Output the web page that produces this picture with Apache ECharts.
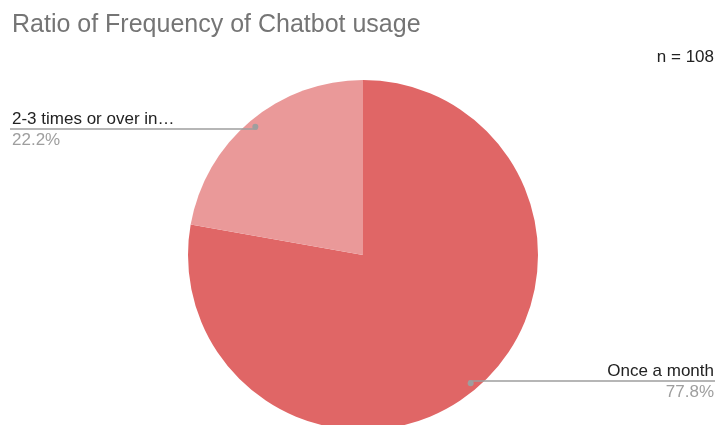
<!DOCTYPE html>
<html>
<head>
<meta charset="utf-8">
<script src="https://cdn.jsdelivr.net/npm/echarts@6/dist/echarts.min.js"></script>
<style>
  html, body { margin: 0; padding: 0; background: #ffffff; }
  #chart { width: 717px; height: 425px; }
</style>
</head>
<body>
<div id="chart"></div>
<script>
// Survey answers: how often respondents use a chatbot (n = 108)
const categories = ['Once a month', '2-3 times or over in a month'];
const shortNames = ['Once a month', '2-3 times or over in\u2026'];
const counts = [84, 24];
const sliceColors = ['#e06666', '#ea9999'];
const titleText = 'Ratio of Frequency of Chatbot usage';
const sampleText = 'n = 108';

const FONT = '"Liberation Sans", Arial, sans-serif';
const CENTER = [363, 255];
const RADIUS = 175;
const ANCHOR = 0.94; // the leader lines start a little inside the rim

const chart = echarts.init(document.getElementById('chart'), null, { renderer: 'canvas' });

const sliceData = categories.map((c, i) => ({
  name: c,
  value: counts[i],
  itemStyle: { color: sliceColors[i] }
}));
const plainData = categories.map((c, i) => ({ name: c, value: counts[i] }));

// point on the slice's mid-angle, slightly inside the rim
function anchorPoint(dataIndex) {
  const total = counts.reduce((a, b) => a + b, 0);
  let before = 0;
  for (let i = 0; i < dataIndex; i++) before += counts[i];
  const mid = (before + counts[dataIndex] / 2) / total * Math.PI * 2;
  return [
    CENTER[0] + Math.sin(mid) * RADIUS * ANCHOR,
    CENTER[1] - Math.cos(mid) * RADIUS * ANCHOR
  ];
}

const ring = {
  type: 'pie',
  center: CENTER,
  radius: [RADIUS * (2 * ANCHOR - 1), RADIUS],
  startAngle: 90,
  clockwise: true,
  silent: true,
  avoidLabelOverlap: false,
  itemStyle: { color: 'rgba(0,0,0,0)' },
  data: plainData
};

chart.setOption({
  backgroundColor: '#ffffff',
  animation: false,
  title: [
    {
      text: titleText,
      left: 7,
      top: 8,
      textStyle: { fontFamily: FONT, fontSize: 25, fontWeight: 'normal', color: '#757575' }
    },
    {
      text: sampleText,
      right: -2,
      top: 44,
      textStyle: { fontFamily: FONT, fontSize: 17, fontWeight: 'normal', color: '#222222' }
    }
  ],
  series: [
    {
      // the slices themselves
      type: 'pie',
      center: CENTER,
      radius: RADIUS,
      startAngle: 90,
      clockwise: true,
      silent: true,
      z: 2,
      data: sliceData,
      label: { show: false },
      labelLine: { show: false }
    },
    Object.assign({}, ring, {
      // category labels with their leader lines, drawn above the slices
      z: 3,
      label: {
        show: true,
        position: 'outside',
        formatter: p => '{name|' + shortNames[p.dataIndex] + '}\n{pct|' + p.percent.toFixed(1) + '%}',
        rich: {
          name: { fontFamily: FONT, fontSize: 17, color: '#222222', lineHeight: 21 },
          pct: { fontFamily: FONT, fontSize: 17, color: '#9e9e9e', lineHeight: 21 }
        }
      },
      labelLine: {
        show: true,
        minTurnAngle: null,
        maxSurfaceAngle: null,
        lineStyle: { color: '#9e9e9e', width: 1.6 }
      },
      labelLayout: function (p) {
        const a = anchorPoint(p.dataIndex);
        const w = chart.getWidth();
        const onLeft = a[0] < CENTER[0];
        const endX = onLeft ? 10 : w - 2;
        return {
          x: onLeft ? 12 : w - 3,
          y: a[1] + 1,
          align: onLeft ? 'left' : 'right',
          verticalAlign: 'middle',
          labelLinePoints: [a, [(a[0] + endX) / 2, a[1]], [endX, a[1]]]
        };
      }
    }),
    Object.assign({}, ring, {
      // small grey dots where each leader line starts
      z: 4,
      label: {
        show: true,
        position: 'inside',
        rotate: 0,
        formatter: '{dot|}',
        lineHeight: 6,
        rich: {
          dot: { width: 6, height: 6, lineHeight: 6, borderRadius: 3, backgroundColor: '#9e9e9e' }
        }
      },
      labelLine: { show: false }
    })
  ]
});
</script>
</body>
</html>
